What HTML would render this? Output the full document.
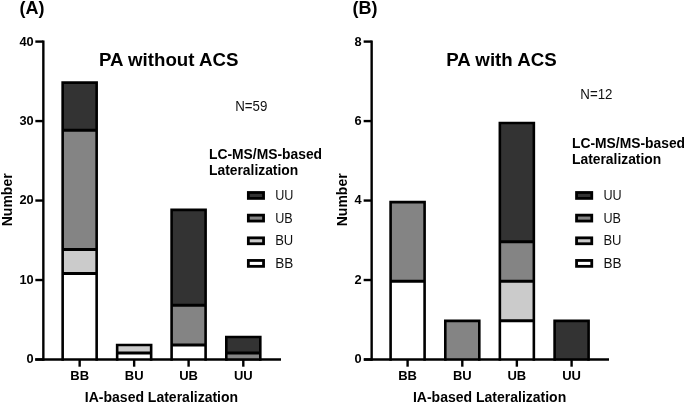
<!DOCTYPE html>
<html><head><meta charset="utf-8"><style>
html,body{margin:0;padding:0;background:#fff;}
body{width:685px;height:405px;overflow:hidden;}
svg{display:block;will-change:transform;}
text{font-family:"Liberation Sans",sans-serif;fill:#000;}
.b{font-weight:bold;}
.tk{font-size:13px;}
.tk2{font-size:13.6px;}
.xl{font-size:14px;}
.ti{font-size:18.7px;}
.nn{font-size:14px;fill:#111;}
.pl{font-size:18px;}
.lg{font-size:13.85px;}
.li{font-size:14px;fill:#111;}
</style></head><body>
<svg width="685" height="405" viewBox="0 0 685 405">
<rect width="685" height="405" fill="#fff"/>
<rect x="62.65" y="273.45" width="34.00" height="87.48" fill="#ffffff"/>
<rect x="62.65" y="249.59" width="34.00" height="23.86" fill="#cbcbcb"/>
<rect x="62.65" y="130.31" width="34.00" height="119.29" fill="#848484"/>
<rect x="62.65" y="82.59" width="34.00" height="47.71" fill="#333333"/>
<line x1="62.65" x2="96.65" y1="273.45" y2="273.45" stroke="#000" stroke-width="3.0"/>
<line x1="62.65" x2="96.65" y1="249.59" y2="249.59" stroke="#000" stroke-width="3.0"/>
<line x1="62.65" x2="96.65" y1="130.31" y2="130.31" stroke="#000" stroke-width="3.0"/>
<path d="M62.65,359.50V82.59H96.65V359.50" fill="none" stroke="#000" stroke-width="2.6" stroke-linejoin="miter" stroke-linecap="square"/>
<rect x="117.15" y="352.98" width="34.00" height="7.95" fill="#ffffff"/>
<rect x="117.15" y="345.02" width="34.00" height="7.95" fill="#cbcbcb"/>
<line x1="117.15" x2="151.15" y1="352.98" y2="352.98" stroke="#000" stroke-width="3.0"/>
<path d="M117.15,359.50V345.02H151.15V359.50" fill="none" stroke="#000" stroke-width="2.6" stroke-linejoin="miter" stroke-linecap="square"/>
<rect x="171.60" y="345.02" width="34.00" height="15.91" fill="#ffffff"/>
<rect x="171.60" y="305.26" width="34.00" height="39.76" fill="#848484"/>
<rect x="171.60" y="209.83" width="34.00" height="95.43" fill="#333333"/>
<line x1="171.60" x2="205.60" y1="345.02" y2="345.02" stroke="#000" stroke-width="3.0"/>
<line x1="171.60" x2="205.60" y1="305.26" y2="305.26" stroke="#000" stroke-width="3.0"/>
<path d="M171.60,359.50V209.83H205.60V359.50" fill="none" stroke="#000" stroke-width="2.6" stroke-linejoin="miter" stroke-linecap="square"/>
<rect x="226.30" y="352.98" width="34.00" height="7.95" fill="#848484"/>
<rect x="226.30" y="337.07" width="34.00" height="15.91" fill="#333333"/>
<line x1="226.30" x2="260.30" y1="352.98" y2="352.98" stroke="#000" stroke-width="3.0"/>
<path d="M226.30,359.50V337.07H260.30V359.50" fill="none" stroke="#000" stroke-width="2.6" stroke-linejoin="miter" stroke-linecap="square"/>
<line x1="35.2" x2="281.0" y1="359.5" y2="359.5" stroke="#000" stroke-width="2.4"/>
<line x1="43.35" x2="43.35" y1="40.4" y2="360.7" stroke="#000" stroke-width="2.4"/>
<line x1="35.35" x2="43.35" y1="359.50" y2="359.50" stroke="#000" stroke-width="2.4"/>
<text x="33.7" y="363.40" class="b tk2" text-anchor="end" textLength="7.11" lengthAdjust="spacingAndGlyphs">0</text>
<line x1="35.35" x2="43.35" y1="280.02" y2="280.02" stroke="#000" stroke-width="2.4"/>
<text x="33.7" y="283.92" class="b tk2" text-anchor="end" textLength="14.22" lengthAdjust="spacingAndGlyphs">10</text>
<line x1="35.35" x2="43.35" y1="200.55" y2="200.55" stroke="#000" stroke-width="2.4"/>
<text x="33.7" y="204.45" class="b tk2" text-anchor="end" textLength="14.22" lengthAdjust="spacingAndGlyphs">20</text>
<line x1="35.35" x2="43.35" y1="121.07" y2="121.07" stroke="#000" stroke-width="2.4"/>
<text x="33.7" y="124.97" class="b tk2" text-anchor="end" textLength="14.22" lengthAdjust="spacingAndGlyphs">30</text>
<line x1="35.35" x2="43.35" y1="41.60" y2="41.60" stroke="#000" stroke-width="2.4"/>
<text x="33.7" y="45.50" class="b tk2" text-anchor="end" textLength="14.22" lengthAdjust="spacingAndGlyphs">40</text>
<line x1="79.65" x2="79.65" y1="359.5" y2="366.7" stroke="#000" stroke-width="2.4"/>
<text x="79.65" y="380.3" class="b tk" text-anchor="middle">BB</text>
<line x1="134.15" x2="134.15" y1="359.5" y2="366.7" stroke="#000" stroke-width="2.4"/>
<text x="134.15" y="380.3" class="b tk" text-anchor="middle">BU</text>
<line x1="188.6" x2="188.6" y1="359.5" y2="366.7" stroke="#000" stroke-width="2.4"/>
<text x="188.6" y="380.3" class="b tk" text-anchor="middle">UB</text>
<line x1="243.3" x2="243.3" y1="359.5" y2="366.7" stroke="#000" stroke-width="2.4"/>
<text x="243.3" y="380.3" class="b tk" text-anchor="middle">UU</text>
<text x="161.48" y="402.0" class="b xl" text-anchor="middle">IA-based Lateralization</text>
<text transform="translate(11.6,199.8) rotate(-90)" class="b xl" text-anchor="middle">Number</text>
<text x="99" y="65.6" class="b ti">PA without ACS</text>
<text x="235.2" y="110.8" class="r nn" textLength="32.17" lengthAdjust="spacingAndGlyphs">N=59</text>
<text x="19.5" y="14" class="b pl">(A)</text>
<text x="209" y="158.5" class="b lg">LC-MS/MS-based</text>
<text x="209" y="174.5" class="b lg">Lateralization</text>
<rect x="248.35" y="192.50" width="15.2" height="5.9" fill="#333333" stroke="#000" stroke-width="2.8"/>
<text x="275.2" y="200.05" class="r li" textLength="18.21" lengthAdjust="spacingAndGlyphs">UU</text>
<rect x="248.35" y="215.15" width="15.2" height="5.9" fill="#848484" stroke="#000" stroke-width="2.8"/>
<text x="275.2" y="222.70" class="r li" textLength="17.51" lengthAdjust="spacingAndGlyphs">UB</text>
<rect x="248.35" y="237.85" width="15.2" height="5.9" fill="#cbcbcb" stroke="#000" stroke-width="2.8"/>
<text x="275.2" y="245.40" class="r li" textLength="18.09" lengthAdjust="spacingAndGlyphs">BU</text>
<rect x="248.35" y="260.45" width="15.2" height="5.9" fill="#ffffff" stroke="#000" stroke-width="2.8"/>
<text x="275.2" y="268.00" class="r li" textLength="18.13" lengthAdjust="spacingAndGlyphs">BB</text>
<rect x="390.60" y="281.27" width="34.00" height="79.18" fill="#ffffff"/>
<rect x="390.60" y="202.10" width="34.00" height="79.17" fill="#848484"/>
<line x1="390.60" x2="424.60" y1="281.27" y2="281.27" stroke="#000" stroke-width="3.0"/>
<path d="M390.60,359.50V202.10H424.60V359.50" fill="none" stroke="#000" stroke-width="2.6" stroke-linejoin="miter" stroke-linecap="square"/>
<rect x="445.30" y="320.86" width="34.00" height="39.59" fill="#848484"/>
<path d="M445.30,359.50V320.86H479.30V359.50" fill="none" stroke="#000" stroke-width="2.6" stroke-linejoin="miter" stroke-linecap="square"/>
<rect x="499.85" y="320.86" width="34.00" height="39.59" fill="#ffffff"/>
<rect x="499.85" y="281.27" width="34.00" height="39.59" fill="#cbcbcb"/>
<rect x="499.85" y="241.69" width="34.00" height="39.59" fill="#848484"/>
<rect x="499.85" y="122.93" width="34.00" height="118.76" fill="#333333"/>
<line x1="499.85" x2="533.85" y1="320.86" y2="320.86" stroke="#000" stroke-width="3.0"/>
<line x1="499.85" x2="533.85" y1="281.27" y2="281.27" stroke="#000" stroke-width="3.0"/>
<line x1="499.85" x2="533.85" y1="241.69" y2="241.69" stroke="#000" stroke-width="3.0"/>
<path d="M499.85,359.50V122.93H533.85V359.50" fill="none" stroke="#000" stroke-width="2.6" stroke-linejoin="miter" stroke-linecap="square"/>
<rect x="554.60" y="320.86" width="34.00" height="39.59" fill="#333333"/>
<path d="M554.60,359.50V320.86H588.60V359.50" fill="none" stroke="#000" stroke-width="2.6" stroke-linejoin="miter" stroke-linecap="square"/>
<line x1="364.0" x2="609.0" y1="359.5" y2="359.5" stroke="#000" stroke-width="2.4"/>
<line x1="371.65" x2="371.65" y1="40.4" y2="360.7" stroke="#000" stroke-width="2.4"/>
<line x1="363.65" x2="371.65" y1="359.50" y2="359.50" stroke="#000" stroke-width="2.4"/>
<text x="361.5" y="363.40" class="b tk2" text-anchor="end" textLength="7.11" lengthAdjust="spacingAndGlyphs">0</text>
<line x1="363.65" x2="371.65" y1="280.02" y2="280.02" stroke="#000" stroke-width="2.4"/>
<text x="361.5" y="283.92" class="b tk2" text-anchor="end" textLength="7.11" lengthAdjust="spacingAndGlyphs">2</text>
<line x1="363.65" x2="371.65" y1="200.55" y2="200.55" stroke="#000" stroke-width="2.4"/>
<text x="361.5" y="204.45" class="b tk2" text-anchor="end" textLength="7.11" lengthAdjust="spacingAndGlyphs">4</text>
<line x1="363.65" x2="371.65" y1="121.07" y2="121.07" stroke="#000" stroke-width="2.4"/>
<text x="361.5" y="124.97" class="b tk2" text-anchor="end" textLength="7.11" lengthAdjust="spacingAndGlyphs">6</text>
<line x1="363.65" x2="371.65" y1="41.60" y2="41.60" stroke="#000" stroke-width="2.4"/>
<text x="361.5" y="45.50" class="b tk2" text-anchor="end" textLength="7.11" lengthAdjust="spacingAndGlyphs">8</text>
<line x1="407.6" x2="407.6" y1="359.5" y2="366.7" stroke="#000" stroke-width="2.4"/>
<text x="407.6" y="380.3" class="b tk" text-anchor="middle">BB</text>
<line x1="462.3" x2="462.3" y1="359.5" y2="366.7" stroke="#000" stroke-width="2.4"/>
<text x="462.3" y="380.3" class="b tk" text-anchor="middle">BU</text>
<line x1="516.85" x2="516.85" y1="359.5" y2="366.7" stroke="#000" stroke-width="2.4"/>
<text x="516.85" y="380.3" class="b tk" text-anchor="middle">UB</text>
<line x1="571.6" x2="571.6" y1="359.5" y2="366.7" stroke="#000" stroke-width="2.4"/>
<text x="571.6" y="380.3" class="b tk" text-anchor="middle">UU</text>
<text x="489.60" y="402.0" class="b xl" text-anchor="middle">IA-based Lateralization</text>
<text transform="translate(346.5,199.8) rotate(-90)" class="b xl" text-anchor="middle">Number</text>
<text x="446.3" y="65.8" class="b ti">PA with ACS</text>
<text x="580.3" y="99.2" class="r nn" textLength="32.17" lengthAdjust="spacingAndGlyphs">N=12</text>
<text x="352.4" y="14" class="b pl">(B)</text>
<text x="572" y="147.5" class="b lg">LC-MS/MS-based</text>
<text x="572" y="163.5" class="b lg">Lateralization</text>
<rect x="576.55" y="192.50" width="15.2" height="5.9" fill="#333333" stroke="#000" stroke-width="2.8"/>
<text x="603.4" y="200.05" class="r li" textLength="18.21" lengthAdjust="spacingAndGlyphs">UU</text>
<rect x="576.55" y="215.15" width="15.2" height="5.9" fill="#848484" stroke="#000" stroke-width="2.8"/>
<text x="603.4" y="222.70" class="r li" textLength="17.51" lengthAdjust="spacingAndGlyphs">UB</text>
<rect x="576.55" y="237.85" width="15.2" height="5.9" fill="#cbcbcb" stroke="#000" stroke-width="2.8"/>
<text x="603.4" y="245.40" class="r li" textLength="18.09" lengthAdjust="spacingAndGlyphs">BU</text>
<rect x="576.55" y="260.45" width="15.2" height="5.9" fill="#ffffff" stroke="#000" stroke-width="2.8"/>
<text x="603.4" y="268.00" class="r li" textLength="18.13" lengthAdjust="spacingAndGlyphs">BB</text>
</svg>
</body></html>
